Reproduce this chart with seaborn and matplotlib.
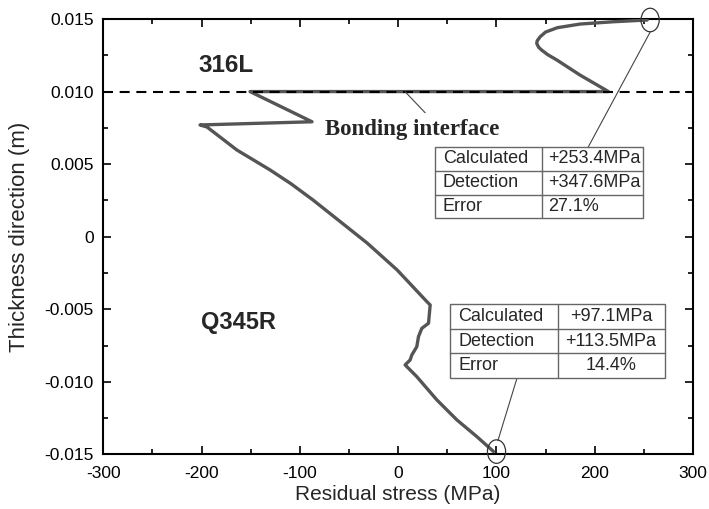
import numpy as np
import pandas as pd
import matplotlib
matplotlib.use("Agg")
import matplotlib.pyplot as plt
from matplotlib.patches import Ellipse, Rectangle
from matplotlib.ticker import MultipleLocator, FuncFormatter
import seaborn as sns

# Residual stress profile through the clad plate thickness (top surface -> bottom surface)
stress_mpa = [253.4, 219, 185, 162, 150, 144.6, 141.5, 141, 143, 146, 152, 161.6,
              185, 214,
              -150.7, -87.6, -201.6, -194.5, -164, -147, -130.3, -109, -86.6,
              -60, -31.6, -1.0, 29.5, 32.6, 30.9, 24.1, 20.7, 19.0, 13.9, 12.2,
              7.1, 10.5, 19.0, 39.4, 59.8, 80.1, 97.1]
thickness_m = [0.01493, 0.01481, 0.01465, 0.01440, 0.01410, 0.01378, 0.01350,
               0.01332, 0.01305, 0.01286, 0.01255, 0.01217, 0.01114, 0.0100,
               0.0100, 0.00792, 0.00770, 0.00756, 0.00597, 0.00528, 0.00460,
               0.00365, 0.00253, 0.00110, -0.00043, -0.00229, -0.00449,
               -0.00470, -0.00596, -0.00631, -0.00688, -0.00757, -0.00815,
               -0.00849, -0.00883, -0.00906, -0.00964, -0.01124, -0.01262,
               -0.01377, -0.0148]

interface_m = 0.010
layer_labels = ["316L", "Q345R"]

table_rows = ["Calculated", "Detection", "Error"]
top_surface_values = ["+253.4MPa", "+347.6MPa", "27.1%"]
bottom_surface_values = ["+97.1MPa", "+113.5MPa", "14.4%"]

sns.set_style("ticks")
plt.rcParams["font.family"] = ["Liberation Sans", "DejaVu Sans"]
plt.rcParams["axes.unicode_minus"] = False

fig = plt.figure(figsize=(7.09, 5.09), dpi=100)
ax = fig.add_axes([0.1457, 0.1071, 0.8317, 0.8556])

profile = pd.DataFrame({"stress": stress_mpa, "thickness": thickness_m})
sns.lineplot(data=profile, x="stress", y="thickness", sort=False,
             estimator=None, color="#555555", linewidth=2.4, ax=ax, zorder=3)

# bonding interface
ax.axhline(interface_m, color="black", linewidth=1.5, dashes=(4.8, 3.2), zorder=4)

ax.set_xlim(-300, 300)
ax.set_ylim(-0.015, 0.015)
ax.xaxis.set_major_locator(MultipleLocator(100))
ax.xaxis.set_minor_locator(MultipleLocator(50))
ax.yaxis.set_major_locator(MultipleLocator(0.005))
ax.yaxis.set_minor_locator(MultipleLocator(0.0025))
ax.xaxis.set_major_formatter(FuncFormatter(lambda v, p: "%d" % round(v)))
ax.yaxis.set_major_formatter(FuncFormatter(lambda v, p: "0" if abs(v) < 1e-9 else "%.3f" % v))
ax.tick_params(which="both", direction="in", top=True, right=True,
               labelsize=12.5, colors="black", width=1.2)
ax.tick_params(axis="x", which="both", pad=8)
ax.tick_params(axis="y", which="both", pad=7)
ax.tick_params(which="major", length=6)
ax.tick_params(which="minor", length=3.5)
for sp in ax.spines.values():
    sp.set_linewidth(1.5)
    sp.set_color("black")

ax.set_xlabel("Residual stress (MPa)", fontsize=15, labelpad=3)
ax.set_ylabel("Thickness direction (m)", fontsize=16, labelpad=10)

ax.text(-203, 0.0118, layer_labels[0], fontsize=17.5, fontweight="bold", va="center", ha="left")
ax.text(-201, -0.0059, layer_labels[1], fontsize=17, fontweight="bold", va="center", ha="left")

ax.text(-74, 0.0074, "Bonding interface", fontsize=16.5, fontweight="bold",
        family=["Liberation Serif", "DejaVu Serif"], va="center", ha="left")
ax.plot([7.1, 27.5], [0.00999, 0.00854], color="#444444", linewidth=0.8, zorder=5)

# surface markers
for x0, y0 in [(stress_mpa[0], thickness_m[0]), (stress_mpa[-1], thickness_m[-1])]:
    ax.add_patch(Ellipse((x0 + 3, y0), 18.5, 0.00162, fill=False, edgecolor="#333333",
                         linewidth=0.9, clip_on=False, zorder=6))
ax.plot([256.6, 193.5], [0.01412, 0.00619], color="#444444", linewidth=0.8, zorder=5)
ax.plot([101.5, 120.9], [-0.01405, -0.00975], color="#444444", linewidth=0.8, zorder=5)


def draw_table(x_edges, y_edges, values, value_x, value_ha, label_x):
    grid_color = "#666666"
    x0, x1, x2 = x_edges
    ax.add_patch(Rectangle((x0, y_edges[-1]), x2 - x0, y_edges[0] - y_edges[-1],
                           facecolor="white", edgecolor=grid_color, linewidth=1.0, zorder=7))
    for yy in y_edges[1:-1]:
        ax.plot([x0, x2], [yy, yy], color=grid_color, linewidth=1.0, zorder=8)
    ax.plot([x1, x1], [y_edges[0], y_edges[-1]], color=grid_color, linewidth=1.0, zorder=8)
    for i, (name, val) in enumerate(zip(table_rows, values)):
        yc = (y_edges[i] + y_edges[i + 1]) / 2
        ax.text(label_x, yc, name, fontsize=13, va="center", ha="left", zorder=9)
        ax.text(value_x, yc, val, fontsize=13, va="center", ha=value_ha, zorder=9)


draw_table((37.7, 146.3, 249.5), [0.00616, 0.00455, 0.00288, 0.00129],
           top_surface_values, 153, "left", 45.5)
draw_table((53.0, 162.2, 271.2), [-0.00463, -0.00636, -0.00803, -0.00975],
           bottom_surface_values, 216.7, "center", 61.4)

fig.savefig("out.png", dpi=100, facecolor="white")
